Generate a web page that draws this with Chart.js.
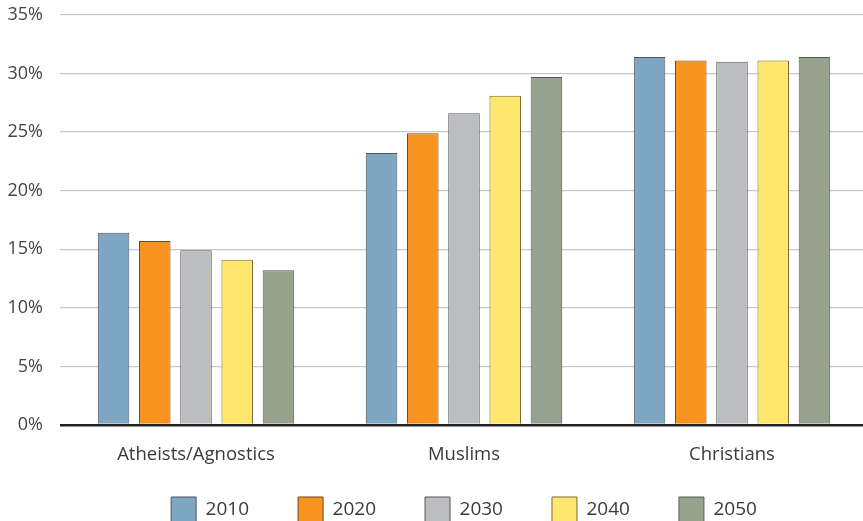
<!DOCTYPE html>
<html>
<head>
<meta charset="utf-8">
<script src="https://cdn.jsdelivr.net/npm/chart.js@4.4.1/dist/chart.umd.min.js"></script>
<style>
  html, body { margin: 0; padding: 0; background: #fff; overflow: hidden; }
  #wrap { position: relative; width: 863px; height: 521px; overflow: hidden; }
  #chart { position: absolute; left: 0; top: -13px; }
</style>
</head>
<body>
<div id="wrap"><canvas id="chart" width="866" height="564"></canvas></div>
<script>
// categories and series (percent of population)
const categories = ['Atheists/Agnostics', 'Muslims', 'Christians'];
const years = ['2010', '2020', '2030', '2040', '2050'];
const values2010 = [16.4, 23.2, 31.4];
const values2020 = [15.7, 24.9, 31.1];
const values2030 = [14.9, 26.6, 31.0];
const values2040 = [14.1, 28.1, 31.1];
const values2050 = [13.2, 29.7, 31.4];
const yTicks = [0, 5, 10, 15, 20, 25, 30, 35];

const seriesValues = [values2010, values2020, values2030, values2040, values2050];
const fills = ['#7fa7c4', '#f7931e', '#bcbdc0', '#ffe66d', '#97a28f'];
const borders = ['#4f555a', '#6b4a1e', '#58585a', '#7a6a30', '#575c55'];

const fontFamily = '"Open Sans", "Noto Sans", sans-serif';
const textColor = '#3a3a3a';

// pull the legend up so it sits just under the category labels
const legendShift = {
  id: 'legendShift',
  afterLayout(chart) {
    const lg = chart.legend;
    if (lg) { lg.top -= 19; lg.bottom -= 19; }
  },
};

const ctx = document.getElementById('chart').getContext('2d');

new Chart(ctx, {
  type: 'bar',
  data: {
    labels: categories,
    datasets: years.map((y, i) => ({
      label: y,
      data: seriesValues[i],
      backgroundColor: fills[i],
      borderColor: borders[i],
      borderWidth: 1,
      barPercentage: 0.765,
      categoryPercentage: 0.769,
    })),
  },
  plugins: [legendShift],
  options: {
    responsive: false,
    animation: false,
    devicePixelRatio: 1,
    layout: { padding: 0 },
    plugins: {
      tooltip: { enabled: false },
      legend: {
        position: 'bottom',
        fullSize: false,
        labels: {
          boxWidth: 25,
          boxHeight: 25,
          padding: 49,
          color: textColor,
          font: { family: fontFamily, size: 19 },
        },
      },
    },
    scales: {
      x: {
        grid: { display: false, drawTicks: false },
        border: { display: false },
        ticks: {
          color: textColor,
          padding: 19,
          font: { family: fontFamily, size: 18.5 },
        },
        afterFit: (scale) => { scale.height = 42; },
      },
      y: {
        min: 0,
        max: 35,
        afterBuildTicks: (scale) => { scale.ticks = yTicks.map(v => ({ value: v })); },
        grid: {
          color: (c) => (c.tick && c.tick.value === 0 ? '#222' : '#c8c8c8'),
          lineWidth: (c) => (c.tick && c.tick.value === 0 ? 2.5 : 1.2),
          drawTicks: true,
          tickLength: 2,
        },
        border: { display: false },
        ticks: {
          color: '#444',
          padding: 17,
          font: { family: fontFamily, size: 18 },
          callback: (v) => v + '%',
        },
        afterFit: (scale) => { scale.width = 62; },
      },
    },
  },
});
</script>
</body>
</html>
